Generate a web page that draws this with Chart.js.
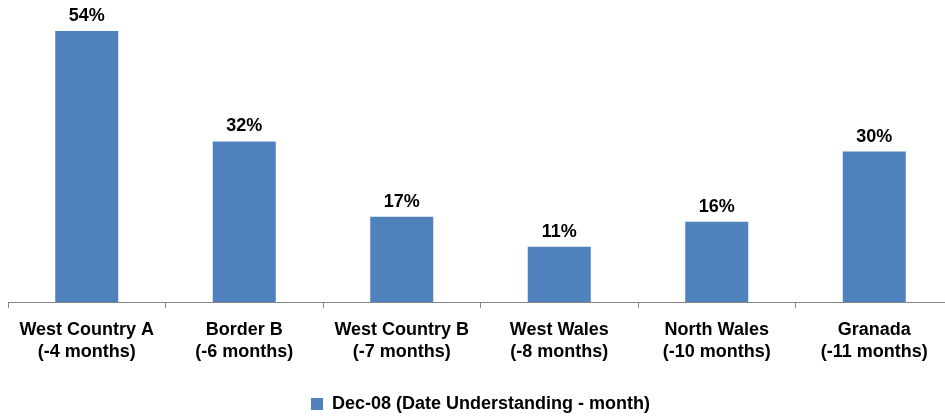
<!DOCTYPE html>
<html>
<head>
<meta charset="utf-8">
<script src="https://cdn.jsdelivr.net/npm/chart.js@4/dist/chart.umd.min.js"></script>
<style>
  html, body { margin: 0; padding: 0; background: #fff; overflow: hidden; }
  #wrap { width: 960px; height: 416px; }
</style>
</head>
<body>
<div id="wrap"><canvas id="grafico"></canvas></div>
<script>
const categories = [
    ['West Country A', '(-4 months)'],
    ['Border B', '(-6 months)'],
    ['West Country B', '(-7 months)'],
    ['West Wales', '(-8 months)'],
    ['North Wales', '(-10 months)'],
    ['Granada', '(-11 months)']
];
const understanding = [54, 32, 17, 11, 16, 30];
const seriesName = 'Dec-08 (Date Understanding - month)';

const fontFamily = '"Liberation Sans", Arial, sans-serif';

// writes the % value above each bar
const barLabels = {
    id: 'barLabels',
    afterDatasetsDraw(chart) {
        const ctx = chart.ctx;
        ctx.save();
        ctx.font = 'bold 18px ' + fontFamily;
        ctx.fillStyle = '#000';
        ctx.textAlign = 'center';
        ctx.textBaseline = 'alphabetic';
        chart.getDatasetMeta(0).data.forEach((bar, i) => {
            ctx.fillText(understanding[i] + '%', bar.x, bar.y - 10);
        });
        ctx.restore();
    }
};

const ctx = document.getElementById('grafico').getContext('2d');
const grafico = new Chart(ctx, {
    type: 'bar',
    data: {
        labels: categories,
        datasets: [{
            label: seriesName,
            data: understanding,
            backgroundColor: '#4F81BD',
            borderWidth: 0,
            categoryPercentage: 1,
            barPercentage: 0.40
        }]
    },
    options: {
        responsive: true,
        maintainAspectRatio: false,
        animation: false,
        layout: { padding: { top: 1, left: 8, right: 7, bottom: -7 } },
        scales: {
            y: { display: false, min: 0, max: 60 },
            x: {
                border: { display: true, color: '#868686', width: 1 },
                grid: {
                    offset: true,
                    drawOnChartArea: false,
                    drawTicks: true,
                    tickLength: 6,
                    color: '#868686'
                },
                ticks: {
                    color: '#000',
                    padding: 11,
                    maxRotation: 0,
                    font: { family: fontFamily, size: 18, weight: 'bold', lineHeight: 1.22 }
                },
                afterFit(scale) { scale.height = 89; }
            }
        },
        plugins: {
            legend: {
                position: 'bottom',
                labels: {
                    color: '#000',
                    boxWidth: 12,
                    boxHeight: 12,
                    padding: 4,
                    font: { family: fontFamily, size: 18, weight: 'bold' }
                }
            },
            tooltip: { enabled: false }
        }
    },
    plugins: [barLabels]
});
</script>
</body>
</html>
